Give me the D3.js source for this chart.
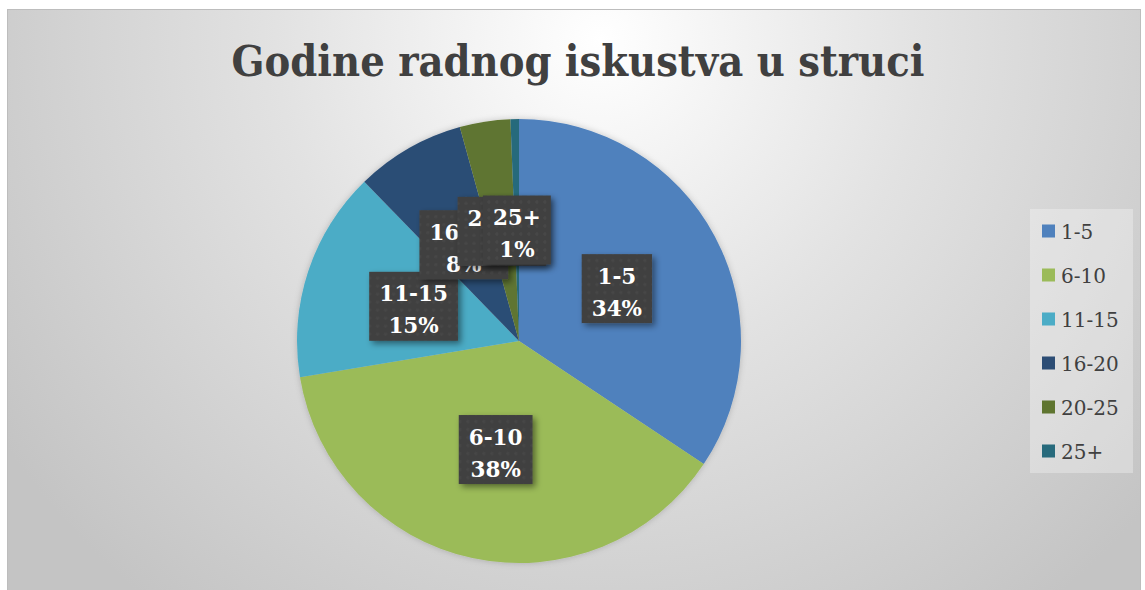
<!DOCTYPE html>
<html>
<head>
<meta charset="utf-8">
<script src="https://cdn.jsdelivr.net/npm/d3@7"></script>
<style>
  body { margin: 0; background: #fff; }
  svg { display: block; }
</style>
</head>
<body>
<div id="chart"></div>
<script>
const title = 'Godine radnog iskustva u struci';
const categories = ['1-5', '6-10', '11-15', '16-20', '20-25', '25+'];
const counts = [56, 62, 25, 13, 6, 1];
const colors = ['#4f81bd', '#9bbb59', '#4bacc6', '#2c4d75', '#5f7530', '#276a7c'];

const width = 1145;
const height = 590;
const cx = 519;
const cy = 341;
const radius = 222;

const data = categories.map((c, i) => ({ cat: c, value: counts[i], color: colors[i] }));
const total = d3.sum(counts);

const svg = d3.select('#chart')
              .append('svg')
              .attr('width', width)
              .attr('height', height);

const defs = svg.append('defs');

const bg = defs.append('radialGradient')
               .attr('id', 'bg')
               .attr('gradientUnits', 'userSpaceOnUse')
               .attr('cx', 600).attr('cy', 40).attr('r', 720);
bg.append('stop').attr('offset', '0%').attr('stop-color', '#ffffff');
bg.append('stop').attr('offset', '45%').attr('stop-color', '#e2e2e2');
bg.append('stop').attr('offset', '100%').attr('stop-color', '#c4c4c4');

const shadow = defs.append('filter')
                   .attr('id', 'shadow')
                   .attr('x', '-20%').attr('y', '-20%')
                   .attr('width', '150%').attr('height', '150%');
shadow.append('feDropShadow')
      .attr('dx', 3).attr('dy', 3)
      .attr('stdDeviation', 3)
      .attr('flood-color', '#000')
      .attr('flood-opacity', 0.45);

const pieShadow = defs.append('filter')
                      .attr('id', 'pieShadow')
                      .attr('x', '-10%').attr('y', '-10%')
                      .attr('width', '120%').attr('height', '120%');
pieShadow.append('feDropShadow')
         .attr('dx', 0).attr('dy', 0)
         .attr('stdDeviation', 3)
         .attr('flood-color', '#000')
         .attr('flood-opacity', 0.2);

const dots = defs.append('pattern')
                 .attr('id', 'dots')
                 .attr('patternUnits', 'userSpaceOnUse')
                 .attr('width', 8).attr('height', 8);
dots.append('rect').attr('width', 8).attr('height', 8).attr('fill', '#404040');
dots.append('circle').attr('cx', 4).attr('cy', 4).attr('r', 1.8).attr('fill', '#464646');

// chart area
svg.append('rect')
   .attr('x', 7.5).attr('y', 9.5)
   .attr('width', 1133).attr('height', 590)
   .attr('fill', 'url(#bg)')
   .attr('stroke', '#bdbdbd')
   .attr('stroke-width', 1);

// title, scaled to the reference width
const titleText = svg.append('text')
   .attr('x', 578)
   .attr('y', 76)
   .attr('text-anchor', 'middle')
   .attr('font-family', '"DejaVu Serif Condensed", "DejaVu Serif", serif')
   .attr('font-stretch', 'condensed')
   .attr('font-weight', 'bold')
   .attr('font-size', 44)
   .attr('fill', '#404040')
   .text(title);
const tw = titleText.node().getComputedTextLength();
titleText.attr('font-size', 44 * 693 / tw);

// pie
const pie = d3.pie().sort(null).value(d => d.value);
const arcs = pie(data);
const arc = d3.arc().innerRadius(0).outerRadius(radius);
const labelArc = d3.arc().innerRadius(radius * 0.5).outerRadius(radius * 0.5);

const g = svg.append('g').attr('transform', `translate(${cx},${cy})`);

g.append('g')
 .attr('filter', 'url(#pieShadow)')
 .selectAll('path')
 .data(arcs)
 .enter()
 .append('path')
 .attr('d', arc)
 .attr('fill', d => d.data.color);

// data labels
const labels = g.selectAll('.label')
                .data(arcs)
                .enter()
                .append('g')
                .attr('class', 'label')
                .attr('transform', d => `translate(${labelArc.centroid(d)})`);

labels.each(function(d) {
  const lg = d3.select(this);
  const box = lg.append('rect').attr('fill', 'url(#dots)').attr('filter', 'url(#shadow)');
  const t = lg.append('text')
              .attr('text-anchor', 'middle')
              .attr('font-family', '"DejaVu Serif", serif')
              .attr('font-weight', 'bold')
              .attr('font-size', 21.5)
              .attr('fill', '#ffffff');
  t.append('tspan').attr('x', 0).attr('y', -5).text(d.data.cat);
  t.append('tspan').attr('x', 0).attr('y', 27).text(Math.round(d.data.value / total * 100) + '%');
  const w = t.node().getBBox().width + 20;
  box.attr('x', -w / 2).attr('y', -34.5).attr('width', w).attr('height', 69);
});

// legend
const legend = svg.append('g');
legend.append('rect')
      .attr('x', 1030).attr('y', 209)
      .attr('width', 103).attr('height', 264)
      .attr('fill', '#ffffff')
      .attr('fill-opacity', 0.3);

const legendY = d3.scalePoint()
                  .domain(categories)
                  .range([231, 451]);

const items = legend.selectAll('.item')
                    .data(data)
                    .enter()
                    .append('g')
                    .attr('class', 'item')
                    .attr('transform', d => `translate(1042,${legendY(d.cat)})`);
items.append('rect')
     .attr('x', 0).attr('y', -6.5)
     .attr('width', 13).attr('height', 13)
     .attr('fill', d => d.color);
items.append('text')
     .attr('x', 19).attr('y', 7.5)
     .attr('font-family', '"DejaVu Serif", serif')
     .attr('font-size', 20)
     .attr('fill', '#404040')
     .text(d => d.cat);
</script>
</body>
</html>
